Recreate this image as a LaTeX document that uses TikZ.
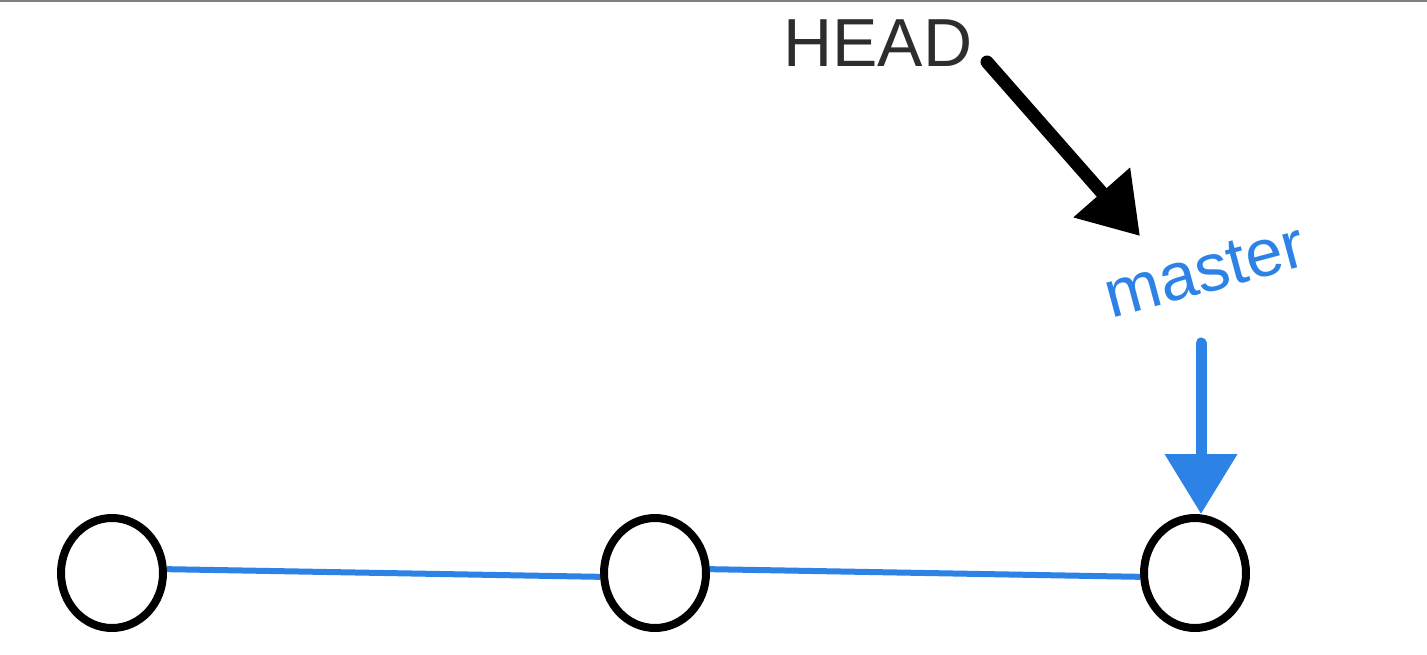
\documentclass[tikz,border=0pt]{standalone}
\usepackage{fontspec}
\setmainfont{Liberation Sans}
\usetikzlibrary{arrows.meta,shapes.geometric}
\definecolor{gitblue}{RGB}{45,130,230}
\definecolor{headgray}{RGB}{45,45,45}
\tikzset{
  commit/.style={draw=black, line width=8pt, ellipse, inner sep=0pt, minimum width=102pt, minimum height=110pt},
  branchline/.style={draw=gitblue, line width=6pt},
  headarrow/.style={draw=black, line width=13pt, line cap=round, -{Triangle[length=58pt,width=72pt]}},
  brancharrow/.style={draw=gitblue, line width=11pt, line cap=round, -{Triangle[length=60pt,width=70pt]}},
  headlabel/.style={text=headgray, font=\fontsize{68}{68}\selectfont, inner sep=0pt},
  branchlabel/.style={text=gitblue, font=\fontsize{67}{67}\selectfont, inner sep=0pt, rotate=15}
}
\begin{document}
\begin{tikzpicture}[x=1pt,y=-1pt]
\useasboundingbox (0,0) rectangle (1427,655);
\fill[white] (0,0) rectangle (1427,655);
\draw[gray, line width=2.5pt] (0,1) -- (1427,1);
\node[commit] (c1) at (112,573) {};
\node[commit] (c2) at (655,573) {};
\node[commit] (c3) at (1195,573) {};
\draw[branchline] (c1.4) -- (c2.184);
\draw[branchline] (c2.4) -- (c3.184);
\node[headlabel, anchor=base] (head) at (878,67) {HEAD};
\node[branchlabel] (master) at (1205,271) {master};
\coordinate (hs) at (987,62);
\coordinate (ht) at (1140,236);
\draw[headarrow] (hs) -- (ht);
\coordinate (ms) at (1201,343);
\draw[brancharrow] (ms) -- (c3.north -| ms);
\end{tikzpicture}
\end{document}
